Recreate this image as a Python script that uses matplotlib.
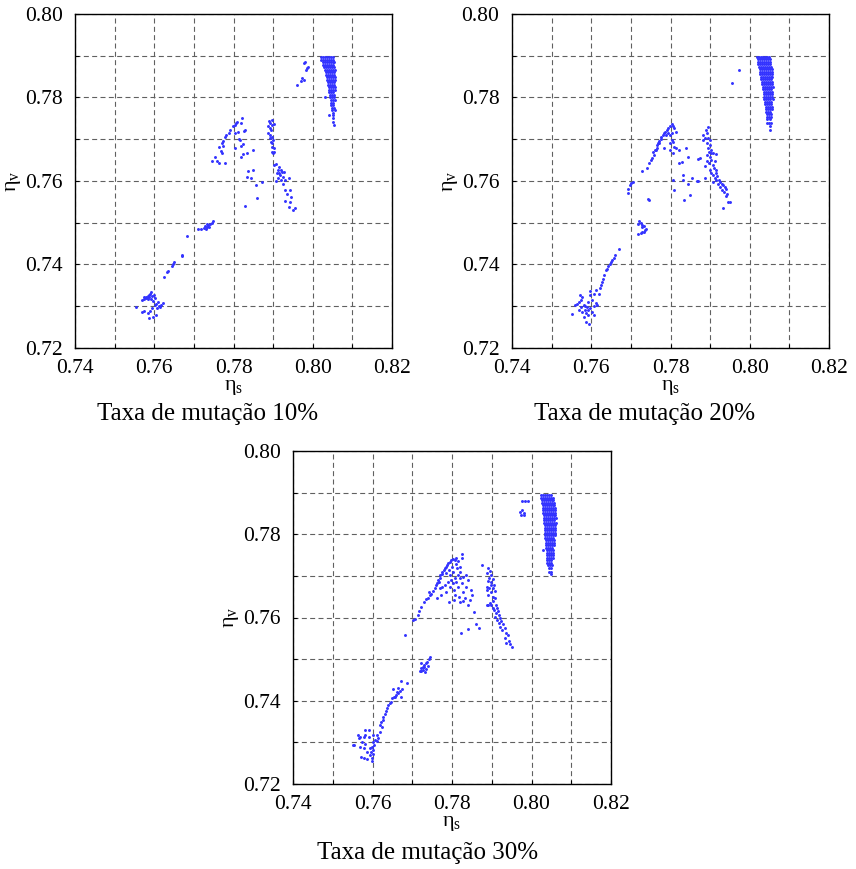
import numpy as np
import matplotlib
matplotlib.use("Agg")
import matplotlib.pyplot as plt

plt.rcParams['font.family'] = ['Liberation Serif', 'DejaVu Serif']
plt.rcParams['mathtext.fontset'] = 'custom'
plt.rcParams['mathtext.rm'] = 'Liberation Serif'
plt.rcParams['mathtext.it'] = 'Liberation Serif'
plt.rcParams['mathtext.bf'] = 'Liberation Serif:bold'

titles = ['Taxa de mutação 10%', 'Taxa de mutação 20%', 'Taxa de mutação 30%']
xticks = [0.74, 0.76, 0.78, 0.80, 0.82]
yticks = [0.72, 0.74, 0.76, 0.78, 0.80]

# ---- mutation 10% ----
p1_dense = [
    (0.7896, [0.8020, 0.8025, 0.8030, 0.8035, 0.8040, 0.8045, 0.8050]),
    (0.7890, [0.8022, 0.8027, 0.8032, 0.8037, 0.8042, 0.8047, 0.8052]),
    (0.7884, [0.8025, 0.8030, 0.8035, 0.8040, 0.8045, 0.8050, 0.8054]),
    (0.7878, [0.8027, 0.8032, 0.8037, 0.8042, 0.8047, 0.8052]),
    (0.7872, [0.8029, 0.8034, 0.8039, 0.8044, 0.8049, 0.8054]),
    (0.7866, [0.8031, 0.8036, 0.8041, 0.8046, 0.8051, 0.8056]),
    (0.7860, [0.8033, 0.8038, 0.8043, 0.8048, 0.8053]),
    (0.7854, [0.8034, 0.8039, 0.8044, 0.8049, 0.8054]),
    (0.7848, [0.8035, 0.8040, 0.8045, 0.8050, 0.8056]),
    (0.7842, [0.8036, 0.8041, 0.8046, 0.8051, 0.8057]),
    (0.7836, [0.8038, 0.8043, 0.8048, 0.8053]),
    (0.7830, [0.8039, 0.8044, 0.8049, 0.8054]),
    (0.7824, [0.8040, 0.8045, 0.8050, 0.8056]),
    (0.7818, [0.8041, 0.8046, 0.8051, 0.8057]),
    (0.7812, [0.8042, 0.8047, 0.8052]),
    (0.7806, [0.8043, 0.8048, 0.8053]),
    (0.7800, [0.8031, 0.8044, 0.8049, 0.8054]),
    (0.7794, [0.8045, 0.8050, 0.8055]),
    (0.7788, [0.8046, 0.8051]),
    (0.7782, [0.8047, 0.8052]),
    (0.7776, [0.8048, 0.8054]),
    (0.7770, [0.8049, 0.8055]),
    (0.7764, [0.8050]),
    (0.7758, [0.8040, 0.8052]),
    (0.7750, [0.8051]),
    (0.7742, [0.8052]),
    (0.7733, [0.8053]),
]
p1_points = [
    # lower left blob
    (0.7555, 0.7298), (0.7570, 0.7315), (0.7575, 0.7318), (0.7580, 0.7322), (0.7583, 0.7325),
    (0.7587, 0.7328), (0.7590, 0.7330), (0.7592, 0.7335), (0.7578, 0.7320), (0.7585, 0.7318),
    (0.7595, 0.7325), (0.7600, 0.7328), (0.7602, 0.7320), (0.7598, 0.7312), (0.7605, 0.7305),
    (0.7610, 0.7310), (0.7622, 0.7308), (0.7615, 0.7298), (0.7608, 0.7296), (0.7602, 0.7302),
    (0.7595, 0.7297), (0.7590, 0.7288), (0.7585, 0.7285), (0.7575, 0.7289), (0.7570, 0.7287),
    (0.7605, 0.7278), (0.7598, 0.7275), (0.7588, 0.7272), (0.7612, 0.7300), (0.7618, 0.7302),
    (0.7573, 0.7323), (0.7588, 0.7322), (0.7592, 0.7317),
    # diagonal
    (0.7625, 0.7369), (0.7631, 0.7382), (0.7635, 0.7384), (0.7644, 0.7396), (0.7648, 0.7402),
    (0.7650, 0.7406), (0.7669, 0.7420), (0.7671, 0.7423), (0.7683, 0.7469),
    (0.7711, 0.7484), (0.7719, 0.7486), (0.7725, 0.7488), (0.7728, 0.7492), (0.7732, 0.7490),
    (0.7736, 0.7494), (0.7740, 0.7496), (0.7745, 0.7500), (0.7749, 0.7503), (0.7739, 0.7491),
    (0.7730, 0.7485), (0.7734, 0.7496),
    # middle left cluster
    (0.7822, 0.7750), (0.7809, 0.7741), (0.7803, 0.7735), (0.7798, 0.7731), (0.7806, 0.7738),
    (0.7819, 0.7739), (0.7830, 0.7723), (0.7827, 0.7720), (0.7811, 0.7718), (0.7803, 0.7714),
    (0.7792, 0.7723), (0.7788, 0.7714), (0.7782, 0.7711), (0.7779, 0.7706), (0.7774, 0.7696),
    (0.7771, 0.7690), (0.7774, 0.7685), (0.7769, 0.7672), (0.7763, 0.7682), (0.7772, 0.7667),
    (0.7754, 0.7658), (0.7745, 0.7647), (0.7758, 0.7648), (0.7764, 0.7643), (0.7779, 0.7643),
    (0.7813, 0.7700), (0.7816, 0.7698), (0.7825, 0.7688), (0.7818, 0.7684), (0.7803, 0.7680),
    (0.7833, 0.7667), (0.7824, 0.7664), (0.7818, 0.7658), (0.7849, 0.7675),
    (0.7836, 0.7624), (0.7849, 0.7626), (0.7834, 0.7610), (0.7845, 0.7606), (0.7856, 0.7590),
    (0.7873, 0.7598), (0.7860, 0.7560), (0.7829, 0.7541),
    # middle right cluster
    (0.7890, 0.7744), (0.7897, 0.7747), (0.7893, 0.7738), (0.7897, 0.7734), (0.7887, 0.7731),
    (0.7903, 0.7736), (0.7891, 0.7726), (0.7895, 0.7722), (0.7888, 0.7714), (0.7893, 0.7710),
    (0.7897, 0.7706), (0.7892, 0.7702), (0.7899, 0.7698), (0.7895, 0.7694), (0.7898, 0.7690),
    (0.7897, 0.7682), (0.7901, 0.7678), (0.7897, 0.7670), (0.7903, 0.7669), (0.7899, 0.7666),
    (0.7902, 0.7638), (0.7908, 0.7640), (0.7916, 0.7634), (0.7912, 0.7626), (0.7920, 0.7627),
    (0.7910, 0.7618), (0.7916, 0.7619), (0.7922, 0.7622), (0.7927, 0.7622), (0.7918, 0.7614),
    (0.7924, 0.7610), (0.7913, 0.7608), (0.7920, 0.7603), (0.7908, 0.7600), (0.7929, 0.7602),
    (0.7939, 0.7606), (0.7926, 0.7592), (0.7929, 0.7579), (0.7942, 0.7579), (0.7934, 0.7570),
    (0.7945, 0.7562), (0.7931, 0.7552), (0.7942, 0.7549), (0.7941, 0.7538), (0.7956, 0.7536),
    (0.7951, 0.7531),
    # upper right stragglers
    (0.7959, 0.7831), (0.7971, 0.7839), (0.7974, 0.7846), (0.7977, 0.7843), (0.7977, 0.7882),
    (0.7980, 0.7886), (0.7986, 0.7870), (0.7988, 0.7874), (0.7984, 0.7867),
]

# ---- mutation 20% ----
p2_dense = [
    (0.7898, [0.8018, 0.8023, 0.8028, 0.8033, 0.8038, 0.8043, 0.8048]),
    (0.7892, [0.8020, 0.8025, 0.8030, 0.8035, 0.8040, 0.8045, 0.8050]),
    (0.7886, [0.8021, 0.8026, 0.8031, 0.8036, 0.8041, 0.8046, 0.8051]),
    (0.7880, [0.8022, 0.8027, 0.8032, 0.8037, 0.8042, 0.8047, 0.8052]),
    (0.7874, [0.8024, 0.8029, 0.8034, 0.8039, 0.8044, 0.8049, 0.8054]),
    (0.7868, [0.8025, 0.8030, 0.8035, 0.8040, 0.8045, 0.8050, 0.8055]),
    (0.7862, [0.8026, 0.8031, 0.8036, 0.8041, 0.8046, 0.8051, 0.8056]),
    (0.7856, [0.8027, 0.8032, 0.8037, 0.8042, 0.8047, 0.8052, 0.8057]),
    (0.7850, [0.8028, 0.8033, 0.8038, 0.8043, 0.8048, 0.8053, 0.8057]),
    (0.7844, [0.8029, 0.8034, 0.8039, 0.8044, 0.8049, 0.8054]),
    (0.7838, [0.8030, 0.8035, 0.8040, 0.8045, 0.8050, 0.8055]),
    (0.7832, [0.8032, 0.8037, 0.8042, 0.8047, 0.8052, 0.8057]),
    (0.7826, [0.8033, 0.8038, 0.8043, 0.8048, 0.8053, 0.8058]),
    (0.7820, [0.8034, 0.8039, 0.8044, 0.8049, 0.8054]),
    (0.7814, [0.8035, 0.8040, 0.8045, 0.8050, 0.8055]),
    (0.7808, [0.8036, 0.8041, 0.8046, 0.8051, 0.8056]),
    (0.7802, [0.8036, 0.8041, 0.8046, 0.8051, 0.8056]),
    (0.7796, [0.8037, 0.8042, 0.8047, 0.8052, 0.8058]),
    (0.7790, [0.8038, 0.8043, 0.8048, 0.8053]),
    (0.7784, [0.8039, 0.8044, 0.8049, 0.8054]),
    (0.7778, [0.8040, 0.8045, 0.8050, 0.8055]),
    (0.7772, [0.8041, 0.8046, 0.8051, 0.8056]),
    (0.7766, [0.8042, 0.8047, 0.8052]),
    (0.7760, [0.8043, 0.8048, 0.8053]),
    (0.7754, [0.8044, 0.8049, 0.8054]),
    (0.7748, [0.8044, 0.8050]),
    (0.7740, [0.8043, 0.8048, 0.8053]),
    (0.7732, [0.8050]),
    (0.7722, [0.8050]),
]
p2_points = [
    # lower left blob and diagonal
    (0.7671, 0.7436), (0.7660, 0.7422), (0.7657, 0.7416), (0.7653, 0.7411), (0.7650, 0.7407),
    (0.7648, 0.7402), (0.7643, 0.7396), (0.7639, 0.7390), (0.7637, 0.7386), (0.7633, 0.7375),
    (0.7629, 0.7366), (0.7627, 0.7358), (0.7625, 0.7351), (0.7623, 0.7343), (0.7620, 0.7330),
    (0.7612, 0.7338), (0.7606, 0.7330), (0.7598, 0.7326), (0.7593, 0.7311), (0.7603, 0.7314),
    (0.7612, 0.7308), (0.7608, 0.7300), (0.7577, 0.7322), (0.7573, 0.7316), (0.7568, 0.7310),
    (0.7564, 0.7306), (0.7560, 0.7302), (0.7581, 0.7303), (0.7585, 0.7300), (0.7589, 0.7298),
    (0.7583, 0.7292), (0.7592, 0.7290), (0.7598, 0.7295), (0.7587, 0.7284), (0.7593, 0.7279),
    (0.7577, 0.7286), (0.7568, 0.7290), (0.7552, 0.7282), (0.7602, 0.7286), (0.7606, 0.7279),
    (0.7581, 0.7274), (0.7587, 0.7263), (0.7595, 0.7258), (0.7614, 0.7302), (0.7573, 0.7298),
    (0.7572, 0.7326), (0.7597, 0.7337),
    # small groups
    (0.7693, 0.7571), (0.7694, 0.7580), (0.7697, 0.7590), (0.7701, 0.7596), (0.7705, 0.7598),
    (0.7718, 0.7496), (0.7721, 0.7504), (0.7725, 0.7500), (0.7729, 0.7490), (0.7733, 0.7492),
    (0.7738, 0.7486), (0.7719, 0.7474), (0.7725, 0.7475), (0.7729, 0.7479), (0.7733, 0.7477),
    (0.7727, 0.7494), (0.7735, 0.7483), (0.7744, 0.7556), (0.7746, 0.7555),
    # arc
    (0.7727, 0.7624), (0.7741, 0.7632), (0.7746, 0.7642), (0.7750, 0.7650), (0.7753, 0.7656),
    (0.7758, 0.7662), (0.7756, 0.7670), (0.7761, 0.7674), (0.7765, 0.7680), (0.7766, 0.7686),
    (0.7769, 0.7691), (0.7771, 0.7696), (0.7775, 0.7701), (0.7777, 0.7706), (0.7780, 0.7711),
    (0.7783, 0.7715), (0.7787, 0.7718), (0.7790, 0.7722), (0.7794, 0.7726), (0.7798, 0.7731),
    (0.7803, 0.7736), (0.7807, 0.7731), (0.7808, 0.7726), (0.7813, 0.7718), (0.7805, 0.7715),
    (0.7798, 0.7710), (0.7794, 0.7715), (0.7788, 0.7710), (0.7771, 0.7690), (0.7763, 0.7675),
    (0.7803, 0.7698), (0.7807, 0.7694), (0.7798, 0.7690), (0.7808, 0.7682), (0.7815, 0.7678),
    (0.7822, 0.7675), (0.7798, 0.7675), (0.7783, 0.7678), (0.7807, 0.7666), (0.7840, 0.7678),
    (0.7822, 0.7643), (0.7828, 0.7646), (0.7845, 0.7658), (0.7832, 0.7614), (0.7807, 0.7602),
    (0.7808, 0.7579), (0.7853, 0.7608), (0.7845, 0.7592), (0.7832, 0.7603), (0.7834, 0.7554),
    (0.7849, 0.7566), (0.7870, 0.7652), (0.7867, 0.7600),
    # right cluster
    (0.7895, 0.7730), (0.7889, 0.7723), (0.7892, 0.7715), (0.7882, 0.7710), (0.7887, 0.7704),
    (0.7881, 0.7698), (0.7895, 0.7702), (0.7899, 0.7698), (0.7892, 0.7690), (0.7899, 0.7686),
    (0.7895, 0.7680), (0.7901, 0.7675), (0.7897, 0.7670), (0.7903, 0.7666), (0.7892, 0.7662),
    (0.7908, 0.7667), (0.7916, 0.7664), (0.7899, 0.7658), (0.7903, 0.7651), (0.7892, 0.7648),
    (0.7912, 0.7648), (0.7897, 0.7642), (0.7906, 0.7638), (0.7887, 0.7635), (0.7909, 0.7632),
    (0.7899, 0.7627), (0.7914, 0.7626), (0.7903, 0.7619), (0.7916, 0.7618), (0.7908, 0.7614),
    (0.7912, 0.7608), (0.7918, 0.7611), (0.7923, 0.7603), (0.7914, 0.7602), (0.7924, 0.7598),
    (0.7929, 0.7594), (0.7906, 0.7598), (0.7920, 0.7592), (0.7933, 0.7590), (0.7926, 0.7586),
    (0.7937, 0.7586), (0.7941, 0.7582), (0.7931, 0.7579), (0.7934, 0.7574), (0.7943, 0.7570),
    (0.7939, 0.7563), (0.7945, 0.7550), (0.7950, 0.7550), (0.7933, 0.7536), (0.7874, 0.7654),
    (0.7887, 0.7606), (0.7870, 0.7600),
    # upper right stragglers
    (0.7974, 0.7866), (0.7955, 0.7835),
]

# ---- mutation 30% ----
p3_dense = [
    (0.7894, [0.8024, 0.8029, 0.8034, 0.8039, 0.8044, 0.8049]),
    (0.7888, [0.8025, 0.8030, 0.8035, 0.8040, 0.8045, 0.8050, 0.8054]),
    (0.7882, [0.8026, 0.8031, 0.8036, 0.8041, 0.8046, 0.8051, 0.8055]),
    (0.7876, [0.8027, 0.8032, 0.8037, 0.8042, 0.8047, 0.8052, 0.8056]),
    (0.7870, [0.8028, 0.8033, 0.8038, 0.8043, 0.8048, 0.8053, 0.8057]),
    (0.7864, [0.8028, 0.8033, 0.8038, 0.8043, 0.8048, 0.8053, 0.8058]),
    (0.7858, [0.8029, 0.8034, 0.8039, 0.8044, 0.8049, 0.8054, 0.8059]),
    (0.7852, [0.8030, 0.8035, 0.8040, 0.8045, 0.8050, 0.8055, 0.8060]),
    (0.7846, [0.8031, 0.8036, 0.8041, 0.8046, 0.8051, 0.8056, 0.8060]),
    (0.7840, [0.8031, 0.8036, 0.8041, 0.8046, 0.8051, 0.8056, 0.8061]),
    (0.7834, [0.8032, 0.8037, 0.8042, 0.8047, 0.8052, 0.8057]),
    (0.7828, [0.8032, 0.8037, 0.8042, 0.8047, 0.8052, 0.8057, 0.8061]),
    (0.7822, [0.8033, 0.8038, 0.8043, 0.8048, 0.8053, 0.8058]),
    (0.7816, [0.8033, 0.8038, 0.8043, 0.8048, 0.8053, 0.8058]),
    (0.7810, [0.8034, 0.8039, 0.8044, 0.8049, 0.8054, 0.8059]),
    (0.7804, [0.8034, 0.8039, 0.8044, 0.8049, 0.8054, 0.8060]),
    (0.7798, [0.8035, 0.8040, 0.8045, 0.8050, 0.8055, 0.8060]),
    (0.7792, [0.8035, 0.8040, 0.8045, 0.8050, 0.8055]),
    (0.7786, [0.8036, 0.8041, 0.8046, 0.8051, 0.8056]),
    (0.7780, [0.8036, 0.8041, 0.8046, 0.8051, 0.8057]),
    (0.7774, [0.8037, 0.8042, 0.8047, 0.8052, 0.8057]),
    (0.7768, [0.8037, 0.8042, 0.8047, 0.8052]),
    (0.7762, [0.8030, 0.8038, 0.8043, 0.8048, 0.8053]),
    (0.7756, [0.8038, 0.8043, 0.8048, 0.8053]),
    (0.7750, [0.8039, 0.8044, 0.8049, 0.8054]),
    (0.7744, [0.8039, 0.8044, 0.8049, 0.8054]),
    (0.7738, [0.8040, 0.8045, 0.8050]),
    (0.7732, [0.8040, 0.8045, 0.8050]),
    (0.7726, [0.8041, 0.8046, 0.8051]),
    (0.7718, [0.8043, 0.8048]),
    (0.7710, [0.8045, 0.8050]),
    (0.7704, [0.8049]),
]
p3_points = [
    # lower left blob and diagonal
    (0.7723, 0.7490), (0.7729, 0.7480), (0.7721, 0.7472), (0.7671, 0.7448), (0.7688, 0.7442),
    (0.7665, 0.7430), (0.7674, 0.7429), (0.7670, 0.7424), (0.7661, 0.7422), (0.7665, 0.7418),
    (0.7651, 0.7429), (0.7659, 0.7414), (0.7653, 0.7410), (0.7671, 0.7410), (0.7648, 0.7406),
    (0.7656, 0.7408), (0.7643, 0.7394), (0.7646, 0.7396), (0.7640, 0.7389), (0.7636, 0.7382),
    (0.7634, 0.7376), (0.7632, 0.7368), (0.7627, 0.7362), (0.7626, 0.7354), (0.7621, 0.7350),
    (0.7618, 0.7341), (0.7623, 0.7338), (0.7619, 0.7325), (0.7612, 0.7318), (0.7615, 0.7310),
    (0.7611, 0.7304), (0.7602, 0.7317), (0.7606, 0.7306), (0.7601, 0.7301), (0.7604, 0.7294),
    (0.7598, 0.7290), (0.7594, 0.7286), (0.7602, 0.7282), (0.7596, 0.7278), (0.7601, 0.7272),
    (0.7593, 0.7270), (0.7598, 0.7262), (0.7582, 0.7330), (0.7590, 0.7314), (0.7578, 0.7314),
    (0.7569, 0.7314), (0.7565, 0.7310), (0.7573, 0.7301), (0.7582, 0.7296), (0.7569, 0.7290),
    (0.7578, 0.7286), (0.7586, 0.7278), (0.7554, 0.7294), (0.7571, 0.7266), (0.7578, 0.7262),
    (0.7586, 0.7261), (0.7598, 0.7256), (0.7592, 0.7330), (0.7582, 0.7318), (0.7564, 0.7318),
    (0.7551, 0.7294),
    # small group
    (0.7722, 0.7478), (0.7726, 0.7482), (0.7730, 0.7486), (0.7734, 0.7490), (0.7738, 0.7494),
    (0.7742, 0.7500), (0.7745, 0.7504), (0.7728, 0.7474), (0.7735, 0.7476), (0.7740, 0.7484),
    (0.7732, 0.7470), (0.7720, 0.7471),
    # arc
    (0.7683, 0.7557), (0.7702, 0.7594), (0.7706, 0.7597), (0.7714, 0.7606), (0.7717, 0.7616),
    (0.7723, 0.7626), (0.7729, 0.7637), (0.7734, 0.7645), (0.7739, 0.7648), (0.7744, 0.7653),
    (0.7748, 0.7656), (0.7742, 0.7662), (0.7752, 0.7664), (0.7756, 0.7670), (0.7759, 0.7677),
    (0.7762, 0.7682), (0.7767, 0.7685), (0.7765, 0.7690), (0.7769, 0.7694), (0.7771, 0.7701),
    (0.7774, 0.7704), (0.7776, 0.7710), (0.7779, 0.7714), (0.7782, 0.7718), (0.7784, 0.7722),
    (0.7787, 0.7726), (0.7791, 0.7730), (0.7794, 0.7734), (0.7798, 0.7738), (0.7803, 0.7741),
    (0.7807, 0.7738), (0.7811, 0.7744), (0.7815, 0.7736), (0.7809, 0.7728), (0.7801, 0.7722),
    (0.7792, 0.7714), (0.7786, 0.7706), (0.7794, 0.7702), (0.7803, 0.7710), (0.7813, 0.7720),
    (0.7819, 0.7722), (0.7826, 0.7752), (0.7824, 0.7742), (0.7821, 0.7710), (0.7815, 0.7702),
    (0.7807, 0.7696), (0.7798, 0.7690), (0.7790, 0.7685), (0.7782, 0.7678), (0.7776, 0.7674),
    (0.7769, 0.7670), (0.7803, 0.7682), (0.7811, 0.7686), (0.7819, 0.7694), (0.7828, 0.7698),
    (0.7834, 0.7701), (0.7840, 0.7690), (0.7826, 0.7682), (0.7815, 0.7674), (0.7804, 0.7666),
    (0.7794, 0.7674), (0.7786, 0.7662), (0.7773, 0.7654), (0.7762, 0.7648), (0.7836, 0.7674),
    (0.7849, 0.7666), (0.7828, 0.7662), (0.7818, 0.7650), (0.7807, 0.7654), (0.7832, 0.7646),
    (0.7845, 0.7642), (0.7819, 0.7638), (0.7851, 0.7654), (0.7840, 0.7630), (0.7828, 0.7640),
    (0.7792, 0.7637), (0.7804, 0.7642), (0.7860, 0.7584), (0.7868, 0.7574), (0.7840, 0.7573),
    (0.7822, 0.7562), (0.7855, 0.7614),
    # right cluster
    (0.7876, 0.7725), (0.7891, 0.7718), (0.7895, 0.7712), (0.7888, 0.7706), (0.7899, 0.7702),
    (0.7893, 0.7696), (0.7902, 0.7693), (0.7891, 0.7688), (0.7897, 0.7685), (0.7905, 0.7678),
    (0.7887, 0.7674), (0.7899, 0.7677), (0.7893, 0.7672), (0.7903, 0.7670), (0.7888, 0.7666),
    (0.7908, 0.7664), (0.7897, 0.7661), (0.7891, 0.7653), (0.7902, 0.7650), (0.7908, 0.7646),
    (0.7903, 0.7640), (0.7895, 0.7634), (0.7910, 0.7630), (0.7891, 0.7629), (0.7902, 0.7624),
    (0.7913, 0.7622), (0.7905, 0.7618), (0.7916, 0.7616), (0.7910, 0.7610), (0.7918, 0.7606),
    (0.7908, 0.7602), (0.7920, 0.7600), (0.7913, 0.7594), (0.7924, 0.7592), (0.7918, 0.7586),
    (0.7929, 0.7584), (0.7922, 0.7578), (0.7933, 0.7574), (0.7927, 0.7570), (0.7935, 0.7562),
    (0.7941, 0.7558), (0.7933, 0.7550), (0.7944, 0.7544), (0.7937, 0.7538), (0.7947, 0.7536),
    (0.7950, 0.7528), (0.7899, 0.7630), (0.7887, 0.7630),
    # upper right stragglers
    (0.7976, 0.7880), (0.7984, 0.7879), (0.7991, 0.7880), (0.7971, 0.7854), (0.7976, 0.7858),
    (0.7980, 0.7852), (0.7974, 0.7846), (0.7982, 0.7846),
]


def unpack(dense, points):
    xs = [x for y, row in dense for x in row] + [p[0] for p in points]
    ys = [y for y, row in dense for x in row] + [p[1] for p in points]
    return np.array(xs), np.array(ys)


W, H = 856, 869
fig = plt.figure(figsize=(W / 100, H / 100), dpi=100)

boxes = [(75, 14, 317, 334), (512, 14, 317, 334), (293, 451, 318, 333)]
title_pos = [(208, 414), (645, 414), (428, 853)]
data = [(p1_dense, p1_points), (p2_dense, p2_points), (p3_dense, p3_points)]

for i in range(3):
    l, t, w, h = boxes[i]
    ax = fig.add_axes([l / W, (H - t - h) / H, w / W, h / H])
    xs, ys = unpack(*data[i])
    ax.scatter(xs, ys, s=4.5, color='#3333ff', linewidths=0, zorder=3)
    ax.set_xlim(0.74, 0.82)
    ax.set_ylim(0.72, 0.80)
    ax.set_xticks(xticks)
    ax.set_yticks(yticks)
    ax.set_xticks(np.arange(0.75, 0.82, 0.02), minor=True)
    ax.set_yticks(np.arange(0.73, 0.80, 0.02), minor=True)
    ax.set_xticklabels(['%.2f' % v for v in xticks])
    ax.set_yticklabels(['%.2f' % v for v in yticks])
    ax.tick_params(which='both', direction='in', length=3, width=0.8,
                   labelsize=15.5, top=False, right=False)
    ax.tick_params(axis='x', pad=8)
    ax.tick_params(axis='y', pad=9)
    ax.grid(True, which='both', color='#606060', linestyle=(0, (4.5, 3)), linewidth=0.8)
    ax.set_axisbelow(True)
    for sp in ax.spines.values():
        sp.set_linewidth(1.0)
        sp.set_color('black')
    ax.set_xlabel(r'$\eta_s$', fontsize=16, labelpad=0)
    ax.set_ylabel(r'$\eta_v$', fontsize=16, labelpad=1)
    tx, ty = title_pos[i]
    fig.text(tx / W, 1 - ty / H, titles[i], fontsize=18, ha='center', va='center')

fig.savefig('out.png', dpi=100)
